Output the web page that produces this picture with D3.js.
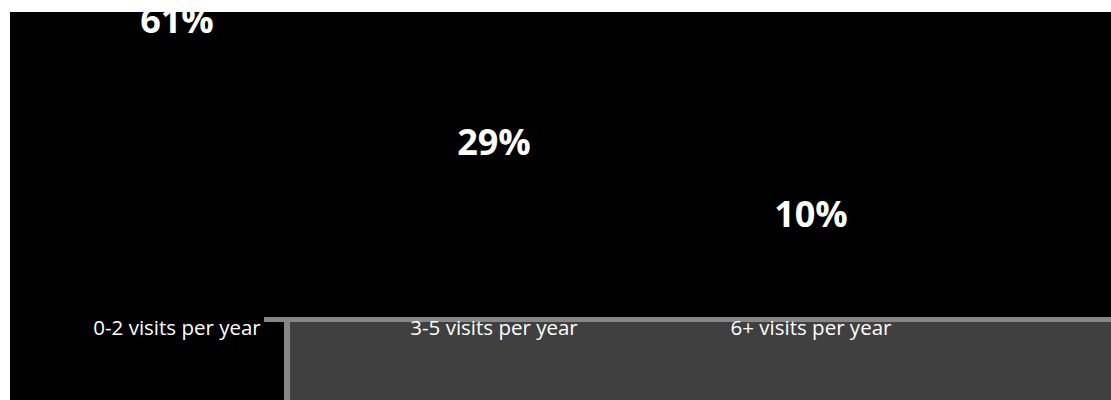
<!DOCTYPE html>
<html>
<head>
<meta charset="utf-8">
<script src="https://cdn.jsdelivr.net/npm/d3@7"></script>
<style>
  body { margin: 0; background: #fff; }
  svg { display: block; }
</style>
</head>
<body>
<div id="chart"></div>
<script>
var width = 1111,
    height = 400;

// visit frequency shares
var categories = ["0-2 visits per year", "3-5 visits per year", "6+ visits per year"];
var shares = [61, 29, 10];

var svg = d3.select("#chart").append("svg")
    .attr("width", width)
    .attr("height", height);

// black panel
svg.append("rect")
    .attr("x", 10).attr("y", 12)
    .attr("width", width - 10).attr("height", height - 12)
    .attr("fill", "#000");

// grey box bottom right
svg.append("rect")
    .attr("x", 287).attr("y", 319.5)
    .attr("width", width - 287).attr("height", height - 319.5)
    .attr("fill", "#404040");
svg.append("line")
    .attr("x1", 264).attr("x2", width)
    .attr("y1", 319.5).attr("y2", 319.5)
    .attr("stroke", "#868686").attr("stroke-width", 5);
svg.append("line")
    .attr("x1", 287).attr("x2", 287)
    .attr("y1", 317).attr("y2", height)
    .attr("stroke", "#868686").attr("stroke-width", 6);

var x = d3.scalePoint()
    .domain(categories)
    .range([177, 811]);

var y = d3.scaleLinear()
    .domain([0, 61])
    .range([265, 33]);

var g = svg.append("g");

g.selectAll(".pct")
    .data(categories)
    .enter()
    .append("text")
    .attr("class", "pct")
    .attr("x", function(d) { return x(d); })
    .attr("y", function(d, i) { return y(shares[i]); })
    .attr("text-anchor", "middle")
    .attr("font-family", "'Open Sans', sans-serif")
    .attr("font-weight", "bold")
    .attr("font-size", 36)
    .attr("fill", "#fff")
    .text(function(d, i) { return shares[i] + "%"; });

g.selectAll(".cat")
    .data(categories)
    .enter()
    .append("text")
    .attr("class", "cat")
    .attr("x", function(d) { return x(d); })
    .attr("y", 335)
    .attr("text-anchor", "middle")
    .attr("font-family", "'Open Sans', sans-serif")
    .attr("font-size", 20.5)
    .attr("fill", "#fff")
    .text(function(d) { return d; });

// white strip over the top so the first label is cut like the original
svg.append("rect")
    .attr("x", 0).attr("y", 0)
    .attr("width", width).attr("height", 12)
    .attr("fill", "#fff");
</script>
</body>
</html>
